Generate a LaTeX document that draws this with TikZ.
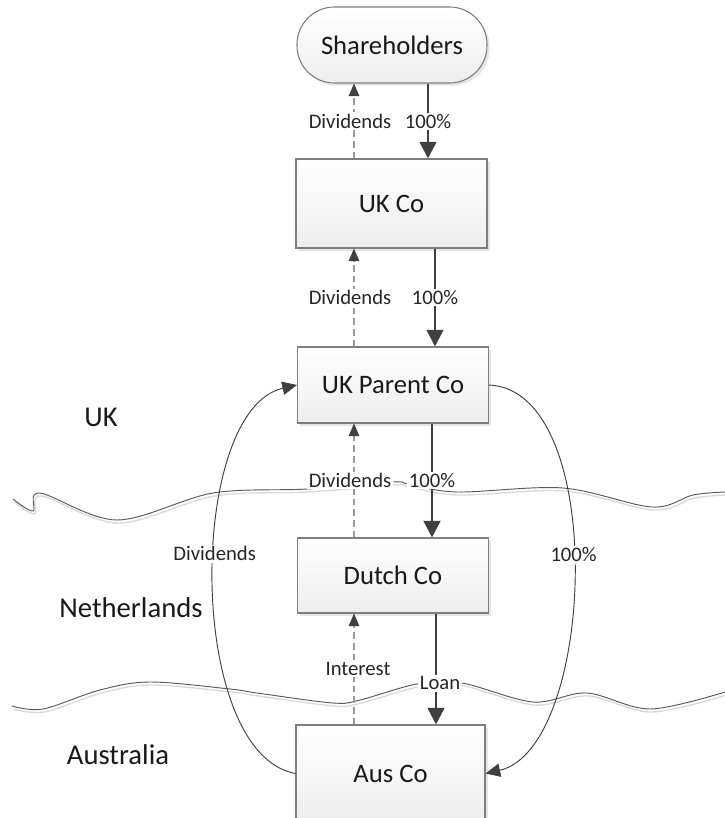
\documentclass[tikz,border=0pt]{standalone}
\usepackage{fontspec}
\setmainfont{Carlito}
\usetikzlibrary{arrows.meta,shadows,calc}
\definecolor{ink}{HTML}{404040}
\definecolor{edgegray}{HTML}{7F7F7F}
\definecolor{dashgray}{HTML}{9A9A9A}
\begin{document}
\begin{tikzpicture}[x=0.75pt,y=-0.75pt,
  boxbase/.style={draw=edgegray, line width=0.8pt, top color=white, bottom color=black!7,
    text=black!90, font=\fontsize{20}{24}\selectfont,
    drop shadow={shadow xshift=2pt, shadow yshift=-2pt, fill=black!20, opacity=0.5}},
  orgbox/.style={boxbase, minimum width=143.25pt},
  pill/.style={boxbase, rounded corners=28pt, minimum width=142.5pt, minimum height=57pt},
  own/.style={ink, line width=1.9pt, -{Triangle[width=12.5pt,length=12.5pt]}},
  div/.style={dashgray, line width=0.8pt, dash pattern=on 5pt off 3pt,
    -{Triangle[width=8pt,length=9.5pt,color=ink]}},
  flow/.style={ink, line width=0.7pt, -{Triangle[width=10pt,length=11pt]}},
  lbl/.style={fill=white, inner sep=1.2pt, text=black!85, font=\fontsize{15.5}{18}\selectfont},
  country/.style={text=black!90, font=\fontsize{21.5}{26}\selectfont},
  wave/.style={black!65, line width=0.7pt},
  waveshadow/.style={black!15, line width=1pt}
]
\useasboundingbox (0,0) rectangle (725,818);
\fill[white] (0,0) rectangle (725,818);

% borders (wavy lines)
\foreach \s/\dx/\dy in {waveshadow/1.5/3, wave/0/0}{
  \draw[\s, shift={(\dx,\dy)}] plot[smooth, tension=0.55] coordinates {
    (13,499) (33,511) (40,493) (117,520) (213,493) (307,489) (393,482) (408,484)
    (457,492) (563,488) (652,507) (693,495) (725,492)};
  \draw[\s, shift={(\dx,\dy)}] plot[smooth, tension=0.55] coordinates {
    (12,706) (43,709) (100,690) (150,682) (230,689) (257,693) (333,703) (360,700)
    (417,684) (462,683) (533,702) (587,693) (650,709) (725,692)};
}

% countries
\node[country] (uk) at (101,417) {UK};
\node[country] (nl) at (131,608) {Netherlands};
\node[country] (au) at (118,755) {Australia};

% entities
\node[pill] (sh) at (392,45) {Shareholders};
\node[orgbox, minimum height=66.75pt] (ukco) at (391.5,203.5) {UK Co};
\node[orgbox, minimum height=57pt] (ukp) at (393,385) {UK Parent Co};
\node[orgbox, minimum height=56.25pt] (dutch) at (393,575.5) {Dutch Co};
\node[orgbox, minimum width=141.75pt, minimum height=72.75pt] (aus) at (390.5,773.5) {Aus Co};

% x positions of the vertical connectors
\coordinate (dx) at (354,0);
\coordinate (o1) at (428,0);
\coordinate (o2) at (435,0);
\coordinate (o3) at (432,0);
\coordinate (o4) at (436,0);

% ownership / loan arrows
\draw[own] (sh.south -| o1) -- node[lbl, pos=0.51] {100\%} (ukco.north -| o1);
\draw[own] (ukco.south -| o2) -- node[lbl, pos=0.5] {100\%} (ukp.north -| o2);
\draw[own] (ukp.south -| o3) -- node[lbl, pos=0.5] {100\%} (dutch.north -| o3);
\draw[own] (dutch.south -| o4) -- node[lbl, pos=0.63, xshift=3pt] {Loan} (aus.north -| o4);

% flows back up
\draw[div] (ukco.north -| dx) -- node[lbl, pos=0.5, xshift=-3pt] {Dividends} (sh.south -| dx);
\draw[div] (ukp.north -| dx) -- node[lbl, pos=0.5, xshift=-3pt] {Dividends} (ukco.south -| dx);
\draw[div] (dutch.north -| dx) -- node[lbl, pos=0.5, xshift=-3pt] {Dividends} (ukp.south -| dx);
\draw[div] (aus.north -| dx) -- node[lbl, pos=0.5, xshift=3pt] {Interest} (dutch.south -| dx);

% long curved connectors
\draw[flow] (aus.west) .. controls +(-110,-20) and +(-110,25) .. node[lbl, pos=0.55] {Dividends} (ukp.west);
\draw[flow] (ukp.east) .. controls +(120,5) and +(110,-25) .. node[lbl, pos=0.47] {100\%} (aus.east);
\end{tikzpicture}
\end{document}
